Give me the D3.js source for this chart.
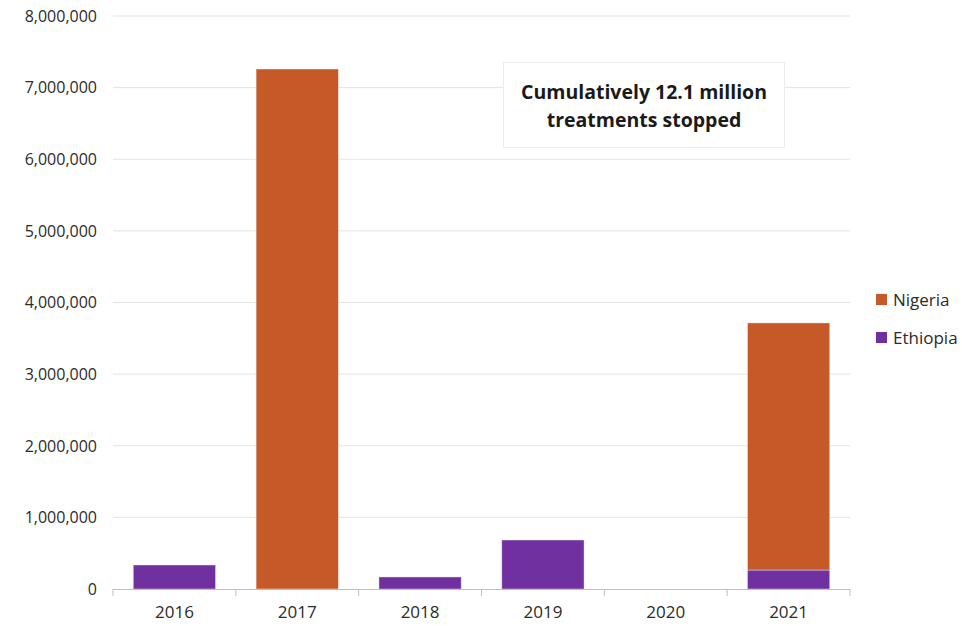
<!DOCTYPE html>
<html>
<head>
<meta charset="utf-8">
<script src="https://cdn.jsdelivr.net/npm/d3@7"></script>
<style>
  body { margin: 0; background: #fff; }
  svg text { font-family: "Open Sans", "Noto Sans", sans-serif; fill: #2b2b2b; }
</style>
</head>
<body>
<svg width="962" height="626"></svg>
<script>
const years = ["2016", "2017", "2018", "2019", "2020", "2021"];
const ethiopia = [335000, 0, 168000, 684000, 0, 265000];
const nigeria = [0, 7260000, 0, 0, 0, 3450000];
const yTicks = [0, 1000000, 2000000, 3000000, 4000000, 5000000, 6000000, 7000000, 8000000];
const seriesNames = ["Nigeria", "Ethiopia"];
const colors = { Nigeria: "#C55A28", Ethiopia: "#7030A0" };

const svg = d3.select("svg");
const plotL = 113, plotR = 850, plotT = 16, plotB = 589;

const rows = years.map((y, i) => ({ year: y, Ethiopia: ethiopia[i], Nigeria: nigeria[i] }));
const stacked = d3.stack().keys(["Ethiopia", "Nigeria"])(rows);

const x = d3.scaleBand().domain(years).range([plotL, plotR]).paddingInner(0.33).paddingOuter(0.165);
const xb = d3.scaleBand().domain(years).range([plotL, plotR]);
const y = d3.scaleLinear().domain([0, 8000000]).range([plotB, plotT]);

// gridlines
svg.append("g").selectAll("line")
  .data(yTicks.slice(1))
  .enter().append("line")
  .attr("x1", plotL).attr("x2", plotR)
  .attr("y1", d => y(d)).attr("y2", d => y(d))
  .attr("stroke", "#e3e3e3").attr("stroke-width", 1);

// y labels
svg.append("g").selectAll("text")
  .data(yTicks)
  .enter().append("text")
  .attr("x", 97).attr("y", d => y(d))
  .attr("dy", "0.36em")
  .attr("text-anchor", "end")
  .style("font-size", "16px")
  .text(d => d3.format(",")(d));

// bars
svg.append("g").selectAll("g")
  .data(stacked)
  .enter().append("g")
  .attr("fill", d => colors[d.key])
  .selectAll("rect")
  .data(d => d.filter(p => p[1] - p[0] > 0))
  .enter().append("rect")
  .attr("x", d => x(d.data.year))
  .attr("width", x.bandwidth())
  .attr("y", d => y(d[1]))
  .attr("height", d => y(d[0]) - y(d[1]))
  .attr("stroke", "#fff").attr("stroke-opacity", 0.5).attr("stroke-width", 0.8);

// x axis
const ax = svg.append("g");
ax.append("line")
  .attr("x1", plotL).attr("x2", plotR)
  .attr("y1", plotB + 0.5).attr("y2", plotB + 0.5)
  .attr("stroke", "#bfbfbf");
const bounds = years.map(d => xb(d)).concat([plotR]);
ax.selectAll(".tk")
  .data(bounds)
  .enter().append("line")
  .attr("x1", d => d).attr("x2", d => d)
  .attr("y1", plotB).attr("y2", plotB + 7)
  .attr("stroke", "#bfbfbf");
ax.selectAll("text")
  .data(years)
  .enter().append("text")
  .attr("x", d => xb(d) + xb.bandwidth() / 2)
  .attr("y", 618)
  .attr("text-anchor", "middle")
  .style("font-size", "17px")
  .text(d => d);

// annotation box
svg.append("rect")
  .attr("x", 503.5).attr("y", 62.5).attr("width", 281).attr("height", 85)
  .attr("fill", "#fff").attr("stroke", "#ececec");
const note = svg.append("text")
  .attr("x", 644).attr("text-anchor", "middle")
  .style("font-size", "19.5px").style("font-weight", "bold")
  .style("fill", "#1a1a1a");
note.append("tspan").attr("x", 644).attr("y", 99).text("Cumulatively 12.1 million");
note.append("tspan").attr("x", 644).attr("y", 127).text("treatments stopped");

// legend
const lg = svg.append("g").selectAll("g")
  .data(seriesNames)
  .enter().append("g")
  .attr("transform", (d, i) => `translate(876, ${294 + i * 38})`);
lg.append("rect").attr("width", 11).attr("height", 11).attr("fill", d => colors[d]);
lg.append("text").attr("x", 17).attr("y", 5.5).attr("dy", "0.36em")
  .style("font-size", "17px").text(d => d);
</script>
</body>
</html>
